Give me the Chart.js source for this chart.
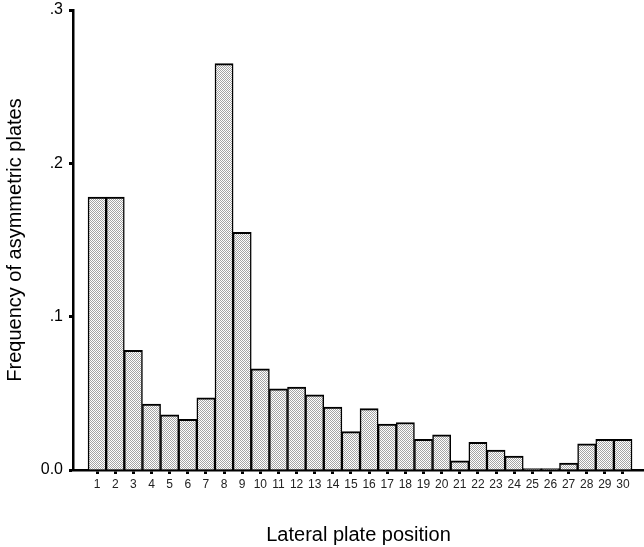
<!DOCTYPE html>
<html>
<head>
<meta charset="utf-8">
<script src="https://cdn.jsdelivr.net/npm/chart.js@4"></script>
<style>
html, body { margin: 0; padding: 0; background: #fff; }
#wrap { width: 644px; height: 547px; position: relative; }
</style>
</head>
<body>
<div id="wrap"><canvas id="frequenciaChart"></canvas></div>
<script>
// posições das placas laterais e frequências
const posicoes = [1, 2, 3, 4, 5, 6, 7, 8, 9, 10, 11, 12, 13, 14, 15,
    16, 17, 18, 19, 20, 21, 22, 23, 24, 25, 26, 27, 28, 29, 30];
const frequencias = [0.178, 0.178, 0.078, 0.043, 0.036, 0.033, 0.047, 0.265, 0.155, 0.066,
    0.053, 0.054, 0.049, 0.041, 0.025, 0.040, 0.030, 0.031, 0.020, 0.023,
    0.006, 0.018, 0.013, 0.009, 0.001, 0.001, 0.0045, 0.017, 0.020, 0.020];
const yTicks = [0, 0.1, 0.2, 0.3];
const yTickLabels = ['0.0', '.1', '.2', '.3'];

// textura pontilhada das barras
function pontilhado() {
    const c = document.createElement('canvas');
    c.width = 2; c.height = 2;
    const ctx = c.getContext('2d');
    ctx.fillStyle = '#ffffff';
    ctx.fillRect(0, 0, 2, 2);
    ctx.fillStyle = '#a4a4a4';
    ctx.fillRect(0, 0, 1, 1);
    ctx.fillRect(1, 1, 1, 1);
    return ctx.createPattern(c, 'repeat');
}

const fonte = 'Liberation Sans, Arial, Helvetica, sans-serif';

new Chart(document.getElementById('frequenciaChart'), {
    type: 'bar',
    data: {
        datasets: [{
            label: 'Frequency of asymmetric plates',
            data: posicoes.map((p, i) => ({ x: p, y: frequencias[i] })),
            backgroundColor: pontilhado(),
            borderColor: '#000',
            borderWidth: { top: 2, left: 1.5, right: 1.5, bottom: 0 },
            borderSkipped: 'start',
            barPercentage: 1,
            categoryPercentage: 1
        }]
    },
    options: {
        responsive: true,
        maintainAspectRatio: false,
        animation: false,
        layout: { padding: { top: 10, right: 0, bottom: 0, left: 0 } },
        plugins: {
            legend: { display: false },
            tooltip: { enabled: false }
        },
        scales: {
            x: {
                type: 'linear',
                offset: false,
                min: -0.33,
                max: 31.16,
                afterBuildTicks: s => { s.ticks = posicoes.map(v => ({ value: v })); },
                afterFit: s => { s.height = 77; s.paddingLeft = 0; s.paddingRight = 0; },
                grid: { offset: false, drawOnChartArea: false, tickLength: 4, tickWidth: 3, tickColor: '#000' },
                border: { color: '#000', width: 2.5 },
                ticks: {
                    color: '#222',
                    font: { family: fonte, size: 12 },
                    padding: 3,
                    maxRotation: 0,
                    autoSkip: false
                },
                title: {
                    display: true,
                    text: 'Lateral plate position',
                    color: '#000',
                    font: { family: fonte, size: 20 },
                    padding: { top: 0, bottom: 0 }
                }
            },
            y: {
                min: 0,
                max: 0.3,
                afterBuildTicks: s => { s.ticks = yTicks.map(v => ({ value: v })); },
                afterFit: s => { s.width = 73; s.paddingTop = 0; s.paddingBottom = 0; },
                grid: { drawOnChartArea: false, tickLength: 4, tickWidth: 3, tickColor: '#000' },
                border: { color: '#000', width: 2.5 },
                ticks: {
                    color: '#000',
                    font: { family: fonte, size: 16 },
                    padding: 6,
                    callback: (v, i) => yTickLabels[i]
                },
                title: {
                    display: true,
                    text: 'Frequency of asymmetric plates',
                    color: '#000',
                    font: { family: fonte, size: 20 },
                    padding: { top: 3, bottom: 0 }
                }
            }
        }
    }
});
</script>
</body>
</html>
